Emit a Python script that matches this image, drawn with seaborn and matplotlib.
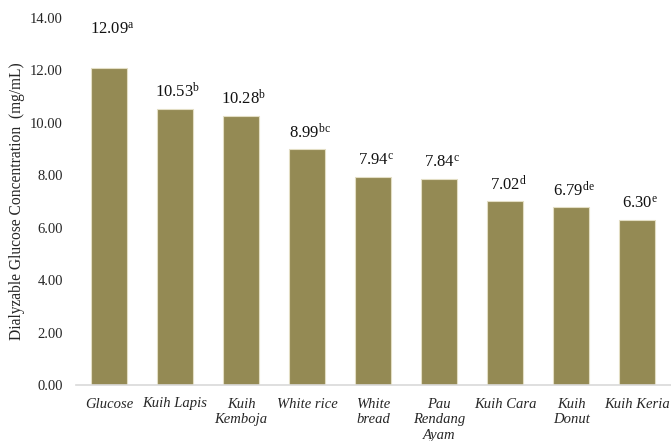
import matplotlib
matplotlib.use("Agg")
import matplotlib.pyplot as plt
import seaborn as sns
import pandas as pd

categories = ["Glucose", "Kuih Lapis", "Kuih\nKemboja", "White rice", "White\nbread",
              "Pau\nRendang\nAyam", "Kuih Cara", "Kuih\nDonut", "Kuih Keria"]
values = [12.09, 10.53, 10.28, 8.99, 7.94, 7.84, 7.02, 6.79, 6.30]
letters = ["a", "b", "b", "bc", "c", "c", "d", "de", "e"]
yticks = [0, 2, 4, 6, 8, 10, 12, 14]

sns.set_theme(style="white")
plt.rcParams['font.family'] = ['Liberation Serif', 'DejaVu Serif']
plt.rcParams['mathtext.fontset'] = 'custom'
plt.rcParams['mathtext.rm'] = 'Liberation Serif'
plt.rcParams['mathtext.it'] = 'Liberation Serif:italic'

df = pd.DataFrame({"cat": categories, "val": values})

fig = plt.figure(figsize=(6.71, 4.41), dpi=100)
ax = fig.add_axes([76/671, 1-385/441, 1-76/671, (385-18)/441])
sns.barplot(data=df, x="cat", y="val", color="#948A54", saturation=1, width=0.55,
            edgecolor="#E3DEC4", linewidth=0.8, ax=ax)

ax.set_xlim(-0.5, 8.51)
ax.set_ylim(0, 14)
ax.set_yticks(yticks)
ax.set_yticklabels([f"{v:.2f}" for v in yticks], fontsize=10.5, color="#262626")
ax.tick_params(axis="y", length=0, pad=9.5)
ax.tick_params(axis="x", length=0, pad=9)
for lab in ax.get_xticklabels():
    lab.set_fontstyle("italic")
    lab.set_fontsize(10.5)
    lab.set_color("#262626")
    lab.set_linespacing(1.25)
ax.set_xlabel("")
ax.set_ylabel("Dialyzable Glucose Concentration  (mg/mL)", fontsize=11.2, color="#262626")
ax.yaxis.set_label_coords(-(76 - 25) / 595, 0.5)

for s in ["top", "right", "left"]:
    ax.spines[s].set_visible(False)
ax.spines["bottom"].set_color("#D9D9D9")
ax.spines["bottom"].set_linewidth(1.2)

for i, (v, l) in enumerate(zip(values, letters)):
    off = 28 if i == 0 else 12
    ax.annotate(f"{v:.2f}$^{{\\mathrm{{{l}}}}}$", (i, v), xytext=(2, off),
                textcoords="offset points", ha="center", va="center",
                fontsize=12, color="#111111")

fig.savefig("out.png", dpi=100)
